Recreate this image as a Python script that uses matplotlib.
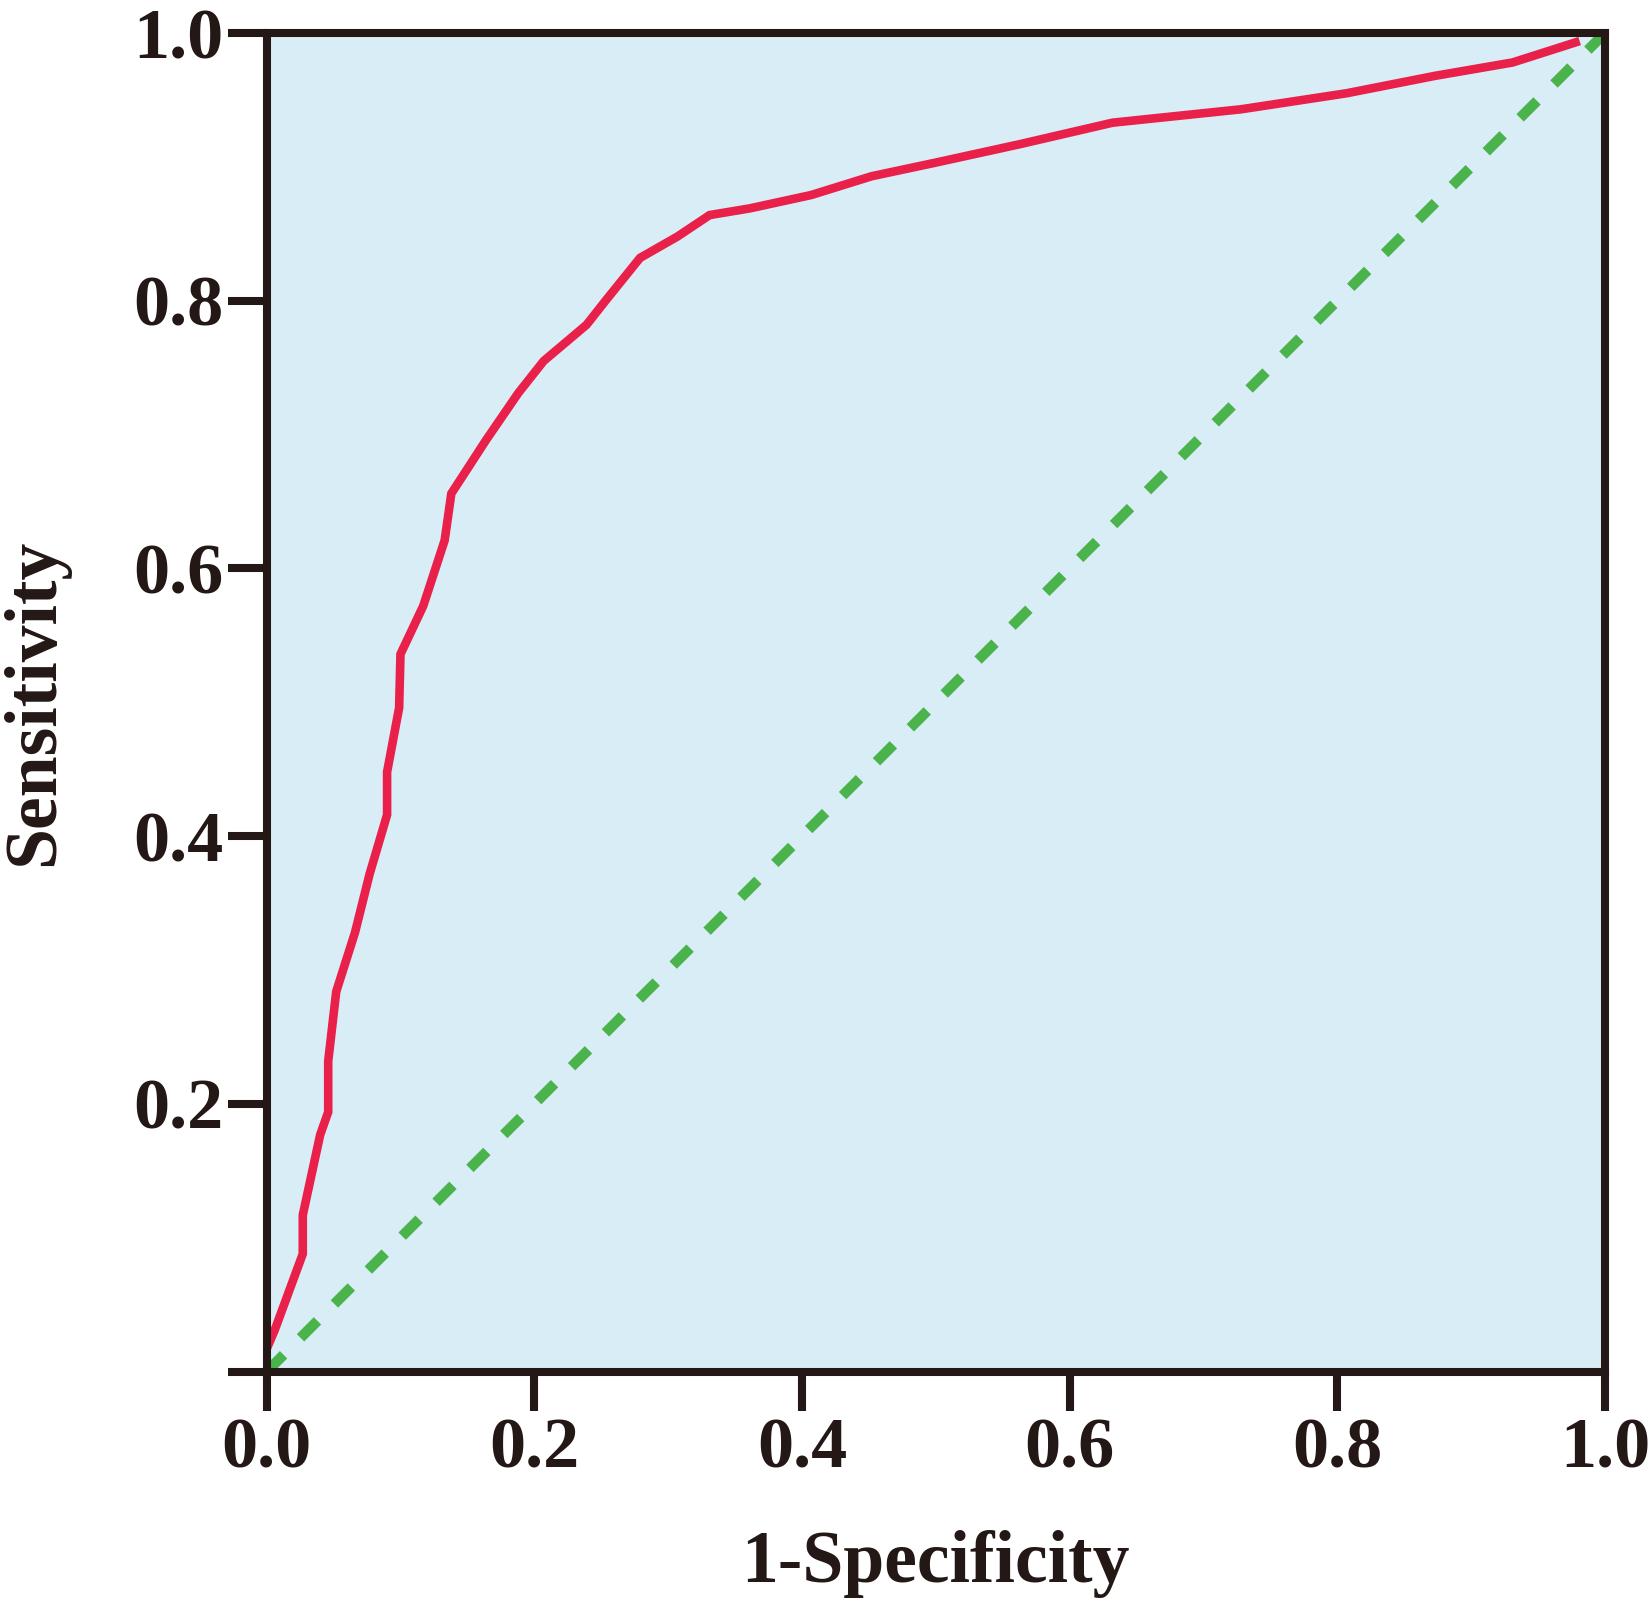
import matplotlib.pyplot as plt

# ROC curve
fpr = [0.0, 0.006, 0.027, 0.027, 0.040, 0.046, 0.046, 0.052, 0.066, 0.077,
       0.090, 0.090, 0.099, 0.100, 0.117, 0.133, 0.138, 0.164, 0.188, 0.207,
       0.239, 0.254, 0.279, 0.307, 0.331, 0.361, 0.407, 0.452, 0.499, 0.563,
       0.632, 0.728, 0.807, 0.873, 0.931, 0.978]
tpr = [0.017, 0.031, 0.088, 0.117, 0.177, 0.194, 0.232, 0.284, 0.328, 0.372,
       0.416, 0.448, 0.496, 0.536, 0.572, 0.621, 0.656, 0.696, 0.731, 0.755,
       0.782, 0.801, 0.832, 0.848, 0.864, 0.869, 0.879, 0.893, 0.903, 0.917,
       0.933, 0.943, 0.955, 0.968, 0.978, 0.993]
ref_x = [0.0, 1.0]
ref_y = [0.0, 1.0]
xticks = [0.0, 0.2, 0.4, 0.6, 0.8, 1.0]
yticks = [0.0, 0.2, 0.4, 0.6, 0.8, 1.0]
ytick_labels = ['', '0.2', '0.4', '0.6', '0.8', '1.0']

plt.rcParams['font.family'] = ['Liberation Serif', 'DejaVu Serif']
plt.rcParams['font.weight'] = 'bold'

dark = '#231815'
fig = plt.figure(figsize=(16.49, 16.10), dpi=100)
ax = fig.add_axes([0.1617, 0.148, 0.9733 - 0.1617, 0.9795 - 0.148])
ax.set_facecolor('#d9edf6')

ax.plot(ref_x, ref_y, color='#4bb34b', linewidth=7.5, linestyle=(0, (2.3, 2.3)),
        dash_capstyle='butt', clip_on=False, zorder=3)
ax.plot(fpr, tpr, color='#e8204a', linewidth=6.2, solid_joinstyle='miter', zorder=4)

ax.set_xlim(0, 1)
ax.set_ylim(0, 1)
ax.set_xticks(xticks)
ax.set_xticklabels([f'{t:.1f}' for t in xticks])
ax.set_yticks(yticks)
ax.set_yticklabels(ytick_labels)

for s in ax.spines.values():
    s.set_linewidth(5.8)
    s.set_color(dark)
    s.set_zorder(5)

ax.tick_params(axis='both', direction='out', length=28, width=5.8, color=dark,
               labelsize=52, labelcolor=dark)
ax.tick_params(axis='x', pad=5)
ax.tick_params(axis='y', pad=3)
for lab in ax.get_xticklabels() + ax.get_yticklabels():
    lab.set_fontweight('bold')

ax.set_xlabel('1-Specificity', fontsize=53, fontweight='bold', color=dark, labelpad=34)
ax.set_ylabel('Sensitivity', fontsize=53, fontweight='bold', color=dark, labelpad=46)

fig.savefig('out.png', dpi=100)
